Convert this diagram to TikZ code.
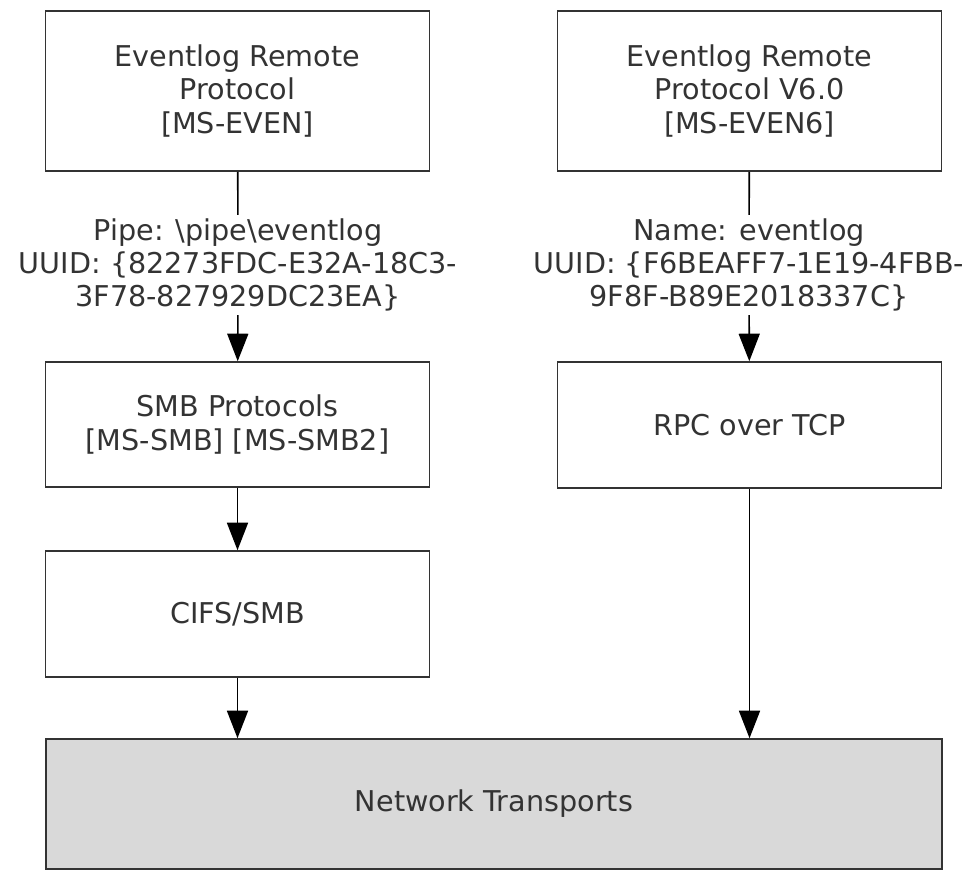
\documentclass[tikz,border=0pt]{standalone}
\usepackage{fontspec}
\setmainfont{DejaVu Sans}
\usetikzlibrary{arrows.meta,positioning}

\begin{document}
\begin{tikzpicture}[
    box/.style={draw=black!80, line width=0.9pt, minimum width=7.68cm, align=center, text=black!80},
    lbl/.style={align=center, inner sep=2pt, text=black!80},
    >={Triangle[width=0.42cm,length=0.55cm]},
    font=\fontsize{16.3}{18.8}\selectfont
]
\useasboundingbox (0,0) rectangle (19.44,-17.46);
% top row
\node[box, minimum height=3.2cm] (even) at (4.75,-1.82) {Eventlog Remote\\Protocol\\{[MS-EVEN]}};
\node[box, minimum height=3.2cm] (even6) at (14.99,-1.82) {Eventlog Remote\\Protocol V6.0\\{[MS-EVEN6]}};
% labels
\node[lbl] (pipe) at (4.76,-5.3) {Pipe: \textbackslash pipe\textbackslash eventlog\\UUID: \{82273FDC-E32A-18C3-\\3F78-827929DC23EA\}};
\node[lbl] (name) at (14.98,-5.3) {Name: eventlog\\UUID: \{F6BEAFF7-1E19-4FBB-\\9F8F-B89E2018337C\}};
% middle
\node[box, minimum height=2.5cm] (smb) at (4.75,-8.49) {SMB Protocols\\{[MS-SMB] [MS-SMB2]}};
\node[box, minimum height=2.52cm] (cifs) at (4.75,-12.28) {CIFS/SMB};
\node[box, minimum height=2.52cm] (rpc) at (14.99,-8.5) {RPC over TCP};
% bottom
\node[box, minimum width=17.92cm, minimum height=2.6cm, fill=black!15] (net) at (9.88,-16.08) {Network Transports};
\draw[line width=0.9pt]
    (even) edge (pipe)
    (pipe) edge[->] (smb)
    (smb) edge[->] (cifs)
    (cifs.south) edge[->] (cifs.south |- net.north)
    (even6) edge (name)
    (name) edge[->] (rpc)
    (rpc.south) edge[->] (rpc.south |- net.north);
\end{tikzpicture}
\end{document}
